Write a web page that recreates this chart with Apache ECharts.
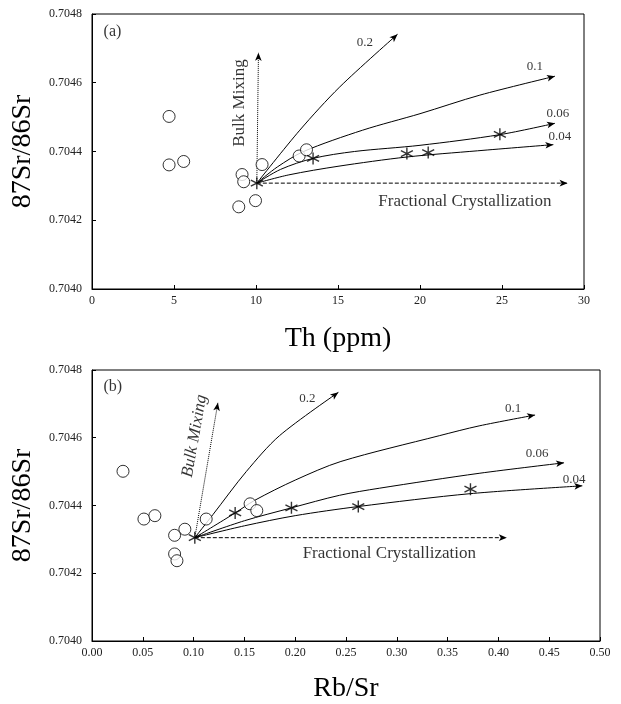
<!DOCTYPE html>
<html>
<head>
<meta charset="utf-8">
<script src="https://cdn.jsdelivr.net/npm/echarts@6/dist/echarts.min.js"></script>
<style>html,body{margin:0;padding:0;background:#fff}#c{width:621px;height:704px}</style>
</head>
<body>
<div id="c"></div>
<script>
// ---------- Panel (a): Th (ppm) ----------
const aCircles = [[4.70,0.704502],[4.70,0.704361],[5.59,0.704371],[9.15,0.704333],[9.25,0.704312],[10.37,0.704362],[8.95,0.704239],[9.97,0.704257],[12.63,0.704387],[13.08,0.704405]];
const aStars = [[10.05,0.704308],[13.48,0.704380],[19.2,0.704394],[20.5,0.704397],[24.87,0.704450]];
const aCurve02 = [[10.05,0.704308],[12.67,0.704462],[15.11,0.704588],[18.63,0.704741]];
const aCurve01 = [[10.05,0.704308],[11.3,0.704355],[12.9,0.704400],[16.5,0.704462],[20.0,0.704510],[23.65,0.704564],[28.23,0.704619]];
const aCurve006 = [[10.05,0.704308],[11.5,0.704348],[13.48,0.704380],[16.0,0.704400],[20.0,0.704418],[24.87,0.704449],[28.23,0.704482]];
const aCurve004 = [[10.05,0.704308],[12.0,0.704332],[15.0,0.704357],[19.2,0.704384],[23.5,0.704402],[28.13,0.704420]];
const aBulk = [[10.05,0.704308],[10.15,0.704687]];
const aFrac = [[10.05,0.704308],[29.0,0.704308]];
const aLabels = [[16.64,0.704716,'0.2'],[27.01,0.704646,'0.1'],[28.41,0.704509,'0.06'],[28.53,0.704442,'0.04'],[1.25,0.704748,'(a)'],[9.01,0.704541,'Bulk Mixing'],[22.74,0.704255,'Fractional Crystallization']];
const aXTicks = {min:0,max:30,interval:5};

// ---------- Panel (b): Rb/Sr ----------
const bCircles = [[0.0305,0.704501],[0.0511,0.704360],[0.0619,0.704370],[0.0914,0.704330],[0.0813,0.704312],[0.0813,0.704257],[0.0836,0.704237],[0.1124,0.704360],[0.1556,0.704405],[0.1622,0.704385]];
const bStars = [[0.1012,0.704305],[0.1409,0.704378],[0.1963,0.704393],[0.2621,0.704397],[0.3725,0.704448]];
const bCurve02 = [[0.1012,0.704305],[0.119,0.704373],[0.1518,0.704500],[0.1845,0.704606],[0.2425,0.704734]];
const bCurve01 = [[0.1012,0.704305],[0.1409,0.704378],[0.160,0.704415],[0.20,0.704475],[0.245,0.704530],[0.3418,0.704606],[0.381,0.704635],[0.4361,0.704667]];
const bCurve006 = [[0.1012,0.704305],[0.15,0.704355],[0.1963,0.704393],[0.2435,0.704430],[0.2828,0.704451],[0.381,0.704495],[0.4646,0.704526]];
const bCurve004 = [[0.1012,0.704305],[0.15,0.704340],[0.20,0.704370],[0.2621,0.704397],[0.3725,0.704435],[0.4826,0.704458]];
const bBulk = [[0.1012,0.704305],[0.1239,0.704703]];
const bFrac = [[0.1012,0.704305],[0.4083,0.704305]];
const bLabels = [[0.212,0.704716,'0.2'],[0.4144,0.704687,'0.1'],[0.438,0.704553,'0.06'],[0.4745,0.704477,'0.04'],[0.0204,0.704751,'(b)'],[0.101,0.704605,'Bulk Mixing'],[0.2926,0.704259,'Fractional Crystallization']];
const bXTicks = {min:0,max:0.5,interval:0.05};

const yTicks = {min:0.7040,max:0.7048,interval:0.0002};

const FONT = '"Liberation Serif", "DejaVu Serif", serif';
const starPath = 'path://M6,0 L6,12 M0.8,3 L11.2,9 M0.8,9 L11.2,3';

let chart = null;
function arrowRot(data, i) {
  if (!chart) return 0;
  const n = data.length;
  const p1 = chart.convertToPixel({gridIndex:i}, data[n-2]);
  const p2 = chart.convertToPixel({gridIndex:i}, data[n-1]);
  const dx = p2[0]-p1[0], dy = p2[1]-p1[1];
  return Math.atan2(-dx, -dy) * 180 / Math.PI;
}
function lineSeries(data, i, type, smooth) {
  const n = data.length;
  const rot = arrowRot(data, i);
  const d = data.map(function(p, k){
    if (k === n-1) return {value:p, symbol:'arrow', symbolSize:[5,8], symbolRotate:rot, itemStyle:{color:'#000'}};
    return {value:p, symbol:'none'};
  });
  return {
    type:'line', xAxisIndex:i, yAxisIndex:i, data:d, smooth:smooth, showSymbol:true,
    symbol:'none', silent:true, lineStyle:{color:'#000',width:1,type:type}, z:3
  };
}
function labels(arr, i, bulkRot, bulkItalic) {
  return {
    type:'scatter', xAxisIndex:i, yAxisIndex:i, symbolSize:1, silent:true, z:6,
    itemStyle:{color:'rgba(0,0,0,0)'},
    data: arr.map(function(d){
      const t = d[2];
      let fs = 13;
      if (t === 'Bulk Mixing' || t === 'Fractional Crystallization') fs = 17;
      if (t[0] === '(') fs = 16;
      const lab = {show:true, position:'inside', formatter:t, color:'#000', fontFamily:FONT, fontSize:fs};
      if (t === 'Bulk Mixing') { lab.rotate = bulkRot; if (bulkItalic) lab.fontStyle = 'italic'; }
      return {value:[d[0],d[1]], label:lab};
    })
  };
}
function points(data, i, star) {
  return star ? {
    type:'scatter', xAxisIndex:i, yAxisIndex:i, data:data, symbol:starPath, symbolSize:[12,12], z:5,
    itemStyle:{color:'rgba(0,0,0,0)', borderColor:'#000', borderWidth:1.4}
  } : {
    type:'scatter', xAxisIndex:i, yAxisIndex:i, data:data, symbol:'circle', symbolSize:12, z:4,
    itemStyle:{color:'#fff', borderColor:'#000', borderWidth:1}
  };
}
function xAxis(t, i, name, gap, dec) {
  return {type:'value', gridIndex:i, min:t.min, max:t.max, interval:t.interval,
    name:name, nameLocation:'middle', nameGap:gap,
    nameTextStyle:{fontFamily:FONT, fontSize:28, color:'#000'},
    axisLine:{lineStyle:{color:'#000',width:1}}, axisTick:{inside:true,length:4,lineStyle:{color:'#000'}},
    splitLine:{show:false},
    axisLabel:{margin:6, fontFamily:FONT, fontSize:12, color:'#222', formatter:function(v){return v.toFixed(dec);}}};
}
function yAxis(i) {
  return {type:'value', gridIndex:i, min:yTicks.min, max:yTicks.max, interval:yTicks.interval,
    name:'87Sr/86Sr', nameLocation:'middle', nameGap:55,
    nameTextStyle:{fontFamily:FONT, fontSize:28, color:'#000'},
    axisLine:{lineStyle:{color:'#000',width:1}}, axisTick:{inside:true,length:4,lineStyle:{color:'#000'}},
    splitLine:{show:false},
    axisLabel:{margin:10, fontFamily:FONT, fontSize:12, color:'#222', formatter:function(v){return v.toFixed(4);}}};
}
function buildOption() {
  return {
    animation:false,
    backgroundColor:'#fff',
    grid:[
      {left:92, top:14, width:492, height:275, show:true, borderColor:'#000', borderWidth:1, backgroundColor:'transparent'},
      {left:92, top:370, width:508, height:275, show:true, borderColor:'#000', borderWidth:1, backgroundColor:'transparent'}
    ],
    xAxis:[xAxis(aXTicks,0,'Th (ppm)',36,0), xAxis(bXTicks,1,'Rb/Sr',34,2)],
    yAxis:[yAxis(0), yAxis(1)],
    series:[
      lineSeries(aCurve02,0,'solid',0.3), lineSeries(aCurve01,0,'solid',0.3), lineSeries(aCurve006,0,'solid',0.3), lineSeries(aCurve004,0,'solid',0.3),
      lineSeries(aBulk,0,'dotted',false), lineSeries(aFrac,0,'dashed',false),
      points(aCircles,0,false), points(aStars,0,true), labels(aLabels,0,90,false),
      lineSeries(bCurve02,1,'solid',0.3), lineSeries(bCurve01,1,'solid',0.3), lineSeries(bCurve006,1,'solid',0.3), lineSeries(bCurve004,1,'solid',0.3),
      lineSeries(bBulk,1,'dotted',false), lineSeries(bFrac,1,'dashed',false),
      points(bCircles,1,false), points(bStars,1,true), labels(bLabels,1,80,true)
    ]
  };
}
chart = echarts.init(document.getElementById('c'), null, {renderer:'canvas'});
const c0 = chart; chart = null;
c0.setOption(buildOption());
chart = c0;
chart.setOption(buildOption(), true);
</script>
</body>
</html>
